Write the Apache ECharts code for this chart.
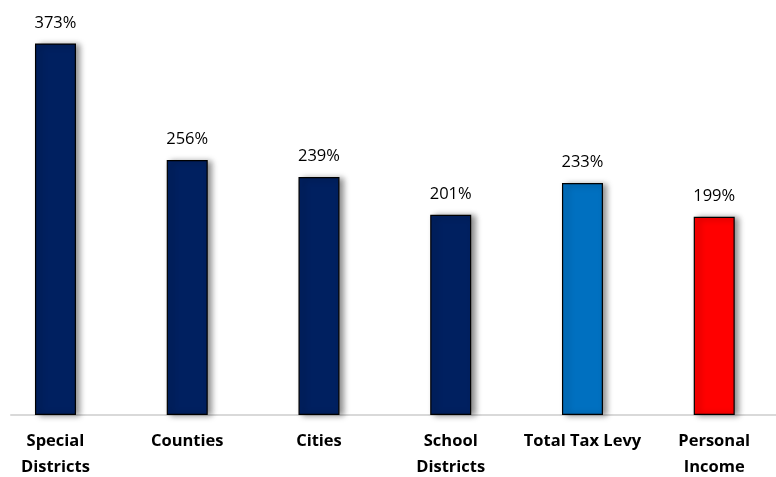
<!DOCTYPE html>
<html><head><meta charset="utf-8">
<script src="https://cdn.jsdelivr.net/npm/echarts@6/dist/echarts.min.js"></script>
<style>html,body{margin:0;padding:0;background:#fff}#c{width:776px;height:477px}</style>
</head><body><div id="c"></div>
<script>
const categories = ['Special\nDistricts', 'Counties', 'Cities', 'School\nDistricts', 'Total Tax Levy', 'Personal\nIncome'];
const values = [373, 256, 239, 201, 233, 199];
const barColors = ['#002060', '#002060', '#002060', '#002060', '#0070C0', '#FF0000'];

const chart = echarts.init(document.getElementById('c'));
chart.setOption({
  animation: false,
  grid: [
    {left: -10.4, right: -4.1, top: 16.6, bottom: 62, outerBoundsMode: 'none', containLabel: false},
    {left: 11, right: 0, top: 16.6, bottom: 62, outerBoundsMode: 'none', containLabel: false}
  ],
  xAxis: [
    {type: 'category', data: categories, gridIndex: 0,
     axisLine: {show: false}, axisTick: {show: false},
     axisLabel: {interval: 0, fontFamily: 'Open Sans', fontWeight: 'bold', fontSize: 16.5, color: '#000', lineHeight: 26, margin: 13}},
    {type: 'value', gridIndex: 1, min: 0, max: 1, axisLabel: {show: false}, axisTick: {show: false}, splitLine: {show: false},
     axisLine: {show: true, lineStyle: {color: '#d9d9d9', width: 2}}}
  ],
  yAxis: [
    {type: 'value', gridIndex: 0, min: 0, max: 400, show: false},
    {type: 'value', gridIndex: 1, min: 0, max: 1, show: false}
  ],
  series: [{
    type: 'bar', xAxisIndex: 0, yAxisIndex: 0,
    barWidth: 41,
    data: values.map((v, i) => ({value: v, itemStyle: {color: barColors[i]}})),
    itemStyle: {borderColor: '#000', borderWidth: 1.2, shadowColor: 'rgba(0,0,0,0.45)', shadowBlur: 6, shadowOffsetX: 4, shadowOffsetY: 1},
    label: {show: true, position: 'top', distance: 12, formatter: '{c}%', fontFamily: 'Open Sans', fontSize: 16.5, color: '#000'}
  }]
});
</script></body></html>
